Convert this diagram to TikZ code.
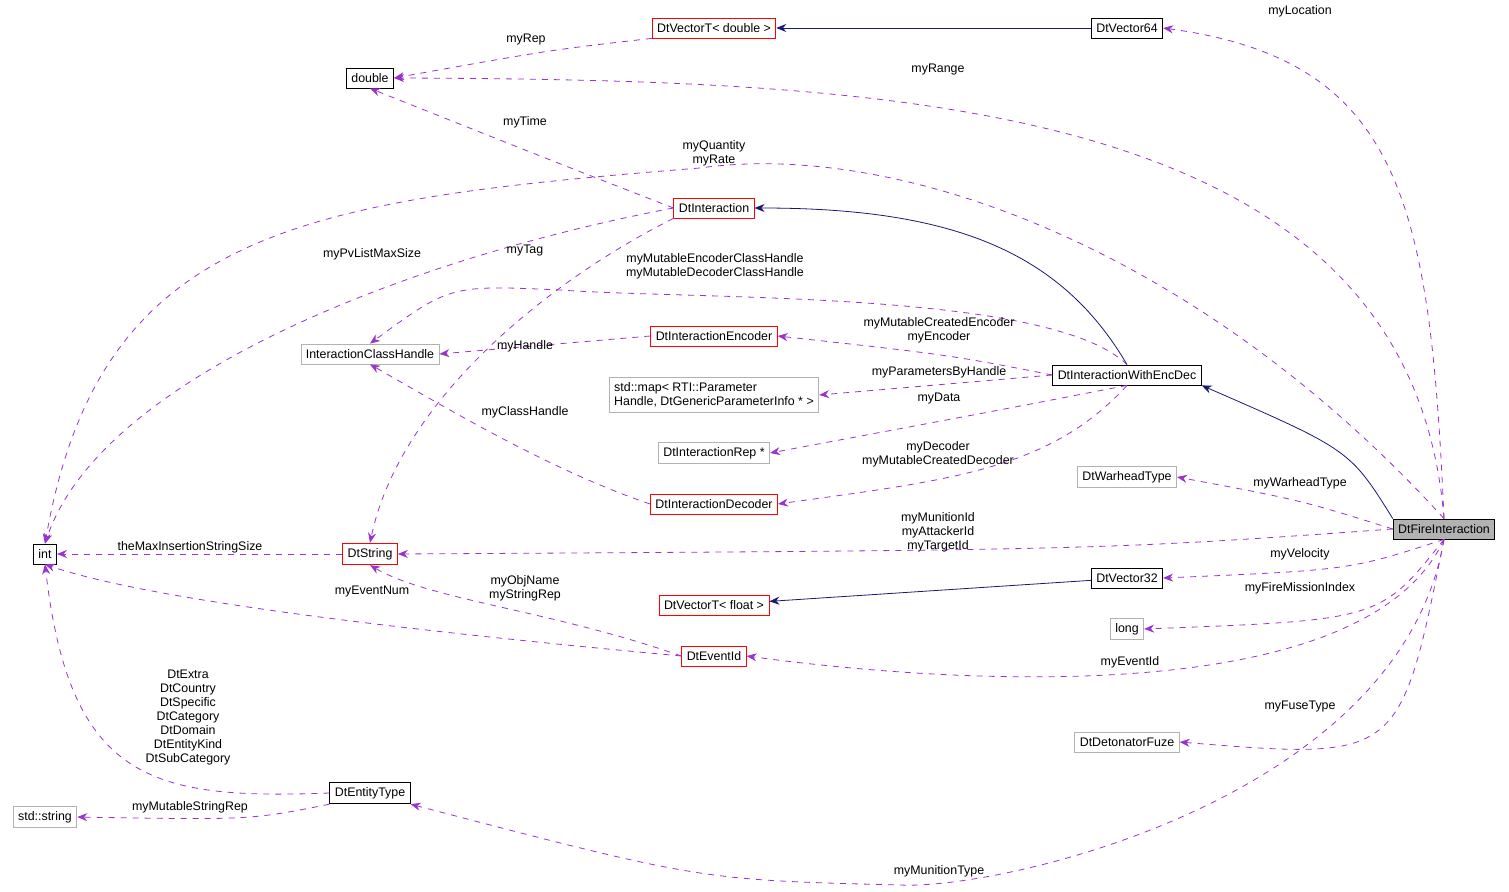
\documentclass[tikz,border=0pt]{standalone}
\usepackage{fontspec}
\setmainfont{Liberation Sans}
\usetikzlibrary{arrows.meta}
\definecolor{orchid}{HTML}{9A32CD}
\definecolor{navyblue}{HTML}{191970}
\tikzset{
  cls/.style={draw, fill=white, inner sep=2.5pt, minimum height=10pt, font=\fontsize{6.2}{7}\selectfont, align=left},
  ext/.style={cls, draw=gray!60},
  red/.style={cls, draw=red},
  uses/.style={orchid, dashed, thin, -{Stealth[length=5pt,width=4pt]}},
  isa/.style={navyblue, thin, -{Stealth[length=5pt,width=4pt]}},
  lbl/.style={font=\fontsize{6.2}{7}\selectfont, align=center, inner sep=0pt}
}
\begin{document}
\begin{tikzpicture}[x=0.5pt, y=-0.5pt]
\useasboundingbox (0,0) rectangle (1509,892);
% classes
\node[cls, fill=gray!60] (fire) at (1444,529) {DtFireInteraction};
\node[cls] (v64) at (1127,28) {DtVector64};
\node[red] (vtd) at (714,28) {DtVectorT< double >};
\node[cls] (dbl) at (370,78) {double};
\node[red] (inter) at (714,208) {DtInteraction};
\node[ext] (ich) at (370,354) {InteractionClassHandle};
\node[red] (enc) at (714,336) {DtInteractionEncoder};
\node[cls] (encdec) at (1127,375) {DtInteractionWithEncDec};
\node[ext] (map) at (714,395) {std::map< RTI::Parameter\\Handle, DtGenericParameterInfo * >};
\node[ext] (rep) at (714,453) {DtInteractionRep *};
\node[red] (dec) at (714,504) {DtInteractionDecoder};
\node[ext] (war) at (1127,477) {DtWarheadType};
\node[cls] (int) at (45,554) {int};
\node[red] (str) at (370,554) {DtString};
\node[cls] (v32) at (1127,578) {DtVector32};
\node[red] (vtf) at (714,605) {DtVectorT< float >};
\node[ext] (long) at (1127,629) {long};
\node[red] (evt) at (714,656) {DtEventId};
\node[ext] (fuze) at (1127,742) {DtDetonatorFuze};
\node[cls] (ent) at (370,793) {DtEntityType};
\node[ext] (sstr) at (45,817) {std::string};

% inheritance
\draw[isa] (v64) -- (vtd);
\draw[isa] (encdec.north) .. controls (1060,250) and (950,208) .. (inter.east);
\draw[isa] (fire.north west) .. controls (1350,450) .. (encdec.south east);
\draw[isa] (v32) -- (vtf);

% members
\draw[uses] (fire.north) .. controls (1430,200) and (1400,60) .. (v64.east);
\draw[uses] (fire.north) .. controls (1410,100) and (900,80) .. (dbl.east);
\draw[uses] (fire.north) .. controls (1200,250) and (900,140) .. (700,168) .. controls (300,200) and (100,230) .. (int.north);
\draw[uses] (inter.west) .. controls (550,160) .. (dbl.south);
\draw[uses] (vtd.south west) .. controls (550,50) .. (dbl.east);
\draw[uses] (inter.west) .. controls (400,260) and (100,380) .. (int.north);
\draw[uses] (inter.south west) .. controls (550,280) and (400,400) .. (str.north);
\draw[uses] (encdec.north) .. controls (1050,290) and (700,300) .. (560,290) .. controls (450,285) .. (ich.north);
\draw[uses] (enc.west) -- (ich.east);
\draw[uses] (encdec.west) .. controls (950,355) .. (enc.east);
\draw[uses] (encdec.west) -- (map.east);
\draw[uses] (encdec.south) .. controls (1000,410) .. (rep.east);
\draw[uses] (encdec.south) .. controls (1050,470) and (950,480) .. (dec.east);
\draw[uses] (dec.west) .. controls (550,470) and (450,410) .. (ich.south);
\draw[uses] (fire.west) .. controls (1300,500) .. (war.east);
\draw[uses] (fire.west) .. controls (1100,550) .. (str.east);
\draw[uses] (str.west) -- (int.east);
\draw[uses] (fire.south) .. controls (1350,570) .. (v32.east);
\draw[uses] (fire.south) .. controls (1380,620) .. (long.east);
\draw[uses] (fire.south) .. controls (1370,700) and (1000,690) .. (evt.east);
\draw[uses] (evt.west) .. controls (550,610) and (430,600) .. (str.south);
\draw[uses] (evt.west) .. controls (400,630) and (150,600) .. (int.south);
\draw[uses] (fire.south) .. controls (1400,760) .. (fuze.east);
\draw[uses] (fire.south) .. controls (1400,800) and (1000,890) .. (900,885) .. controls (700,880) .. (ent.south east);
\draw[uses] (ent.west) .. controls (150,800) and (70,780) .. (int.south);
\draw[uses] (ent.south west) .. controls (250,820) .. (sstr.east);

% labels
\node[lbl] (l1) at (1300,11) {myLocation};
\node[lbl] (l2) at (938,70) {myRange};
\node[lbl] (l3) at (714,153) {myQuantity\\myRate};
\node[lbl] (l4) at (525,122) {myTime};
\node[lbl] (l5) at (526,40) {myRep};
\node[lbl] (l6) at (372,254) {myPvListMaxSize};
\node[lbl] (l7) at (525,251) {myTag};
\node[lbl] (l8) at (715,266) {myMutableEncoderClassHandle\\myMutableDecoderClassHandle};
\node[lbl] (l9) at (525,346) {myHandle};
\node[lbl] (l10) at (939,330) {myMutableCreatedEncoder\\myEncoder};
\node[lbl] (l11) at (939,372) {myParametersByHandle};
\node[lbl] (l12) at (939,399) {myData};
\node[lbl] (l13) at (938,454) {myDecoder\\myMutableCreatedDecoder};
\node[lbl] (l14) at (525,412) {myClassHandle};
\node[lbl] (l15) at (1300,483) {myWarheadType};
\node[lbl] (l16) at (938,532) {myMunitionId\\myAttackerId\\myTargetId};
\node[lbl] (l17) at (190,547) {theMaxInsertionStringSize};
\node[lbl] (l18) at (1300,554) {myVelocity};
\node[lbl] (l19) at (1300,588) {myFireMissionIndex};
\node[lbl] (l20) at (1130,662) {myEventId};
\node[lbl] (l21) at (525,588) {myObjName\\myStringRep};
\node[lbl] (l22) at (372,592) {myEventNum};
\node[lbl] (l23) at (1300,707) {myFuseType};
\node[lbl] (l24) at (939,871) {myMunitionType};
\node[lbl] (l25) at (188,718) {DtExtra\\DtCountry\\DtSpecific\\DtCategory\\DtDomain\\DtEntityKind\\DtSubCategory};
\node[lbl] (l26) at (190,807) {myMutableStringRep};
\end{tikzpicture}
\end{document}
